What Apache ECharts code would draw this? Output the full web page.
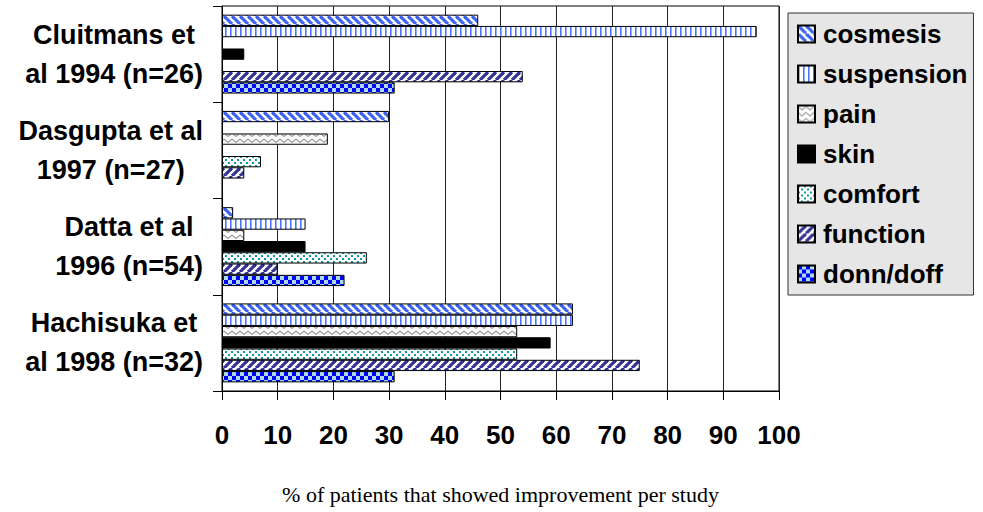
<!DOCTYPE html>
<html>
<head>
<meta charset="utf-8">
<script src="https://cdn.jsdelivr.net/npm/echarts@6/dist/echarts.min.js"></script>
<style>
  html, body { margin: 0; padding: 0; background: #fff; }
  #chart { width: 983px; height: 512px; }
</style>
</head>
<body>
<div id="chart"></div>
<script>
// ---- data ----
const categories = ['Cluitmans et\nal 1994 (n=26)', 'Dasgupta et al\n1997 (n=27)', 'Datta et al\n1996 (n=54)', 'Hachisuka et\nal 1998 (n=32)'];
const seriesNames = ['cosmesis', 'suspension', 'pain', 'skin', 'comfort', 'function', 'donn/doff'];
const cosmesis   = [46, 30, 2, 63];
const suspension = [96, null, 15, 63];
const pain       = [null, 19, 4, 53];
const skin       = [4, null, 15, 59];
const comfort    = [null, 7, 26, 53];
const functionV  = [54, 4, 10, 75];
const donnDoff   = [31, null, 22, 31];
const xMin = 0, xMax = 100, xInterval = 10;
const xAxisTitle = '% of patients that showed improvement per study';

// ---- patterns ----
function makePattern(w, h, draw) {
  const c = document.createElement('canvas');
  c.width = w; c.height = h;
  const ctx = c.getContext('2d');
  draw(ctx, w, h);
  return { image: c, repeat: 'repeat' };
}
function stripes(color, dir, p, lw) {
  return makePattern(p, p, (ctx, w, h) => {
    ctx.fillStyle = '#fff'; ctx.fillRect(0, 0, w, h);
    ctx.strokeStyle = color; ctx.lineWidth = lw;
    for (let k = -1; k <= 1; k++) {
      ctx.beginPath();
      if (dir === 'back') { ctx.moveTo(k * p, 0); ctx.lineTo(k * p + p, p); }
      else { ctx.moveTo(k * p, p); ctx.lineTo(k * p + p, 0); }
      ctx.stroke();
    }
  });
}
const patCosmesis = stripes('#3d63f0', 'back', 8, 3.2);
const patFunction = stripes('#333399', 'fwd', 8, 3.2);
const patSuspension = makePattern(5, 4, (ctx, w, h) => {
  ctx.fillStyle = '#fff'; ctx.fillRect(0, 0, w, h);
  ctx.fillStyle = '#4a74ff'; ctx.fillRect(0, 0, 1.6, h);
});
const patPain = makePattern(8, 6, (ctx, w, h) => {
  ctx.fillStyle = '#fff'; ctx.fillRect(0, 0, w, h);
  ctx.strokeStyle = '#9a9a9a'; ctx.lineWidth = 1.1;
  ctx.beginPath(); ctx.moveTo(0, 1); ctx.lineTo(4, 4.5); ctx.lineTo(8, 1); ctx.stroke();
});
const patComfort = makePattern(6, 6, (ctx, w, h) => {
  ctx.fillStyle = '#fff'; ctx.fillRect(0, 0, w, h);
  ctx.fillStyle = '#139a9a';
  ctx.fillRect(0, 0, 2, 2); ctx.fillRect(3, 3, 2, 2);
});
const patDonn = makePattern(8, 8, (ctx, w, h) => {
  ctx.fillStyle = '#a8dce8'; ctx.fillRect(0, 0, w, h);
  ctx.fillStyle = '#0000ff';
  ctx.fillRect(0, 0, 4, 4); ctx.fillRect(4, 4, 4, 4);
});
const fills = [patCosmesis, patSuspension, patPain, '#000000', patComfort, patFunction, patDonn];
const values = [cosmesis, suspension, pain, skin, comfort, functionV, donnDoff];

const FONT = 'Liberation Sans, Arial, sans-serif';

const chart = echarts.init(document.getElementById('chart'), null, { renderer: 'svg' });
chart.setOption({
  animation: false,
  backgroundColor: '#fff',
  grid: { left: 222, right: 204, top: 6, bottom: 121, show: true, borderColor: '#000', borderWidth: 1, backgroundColor: '#fff' },
  legend: {
    orient: 'vertical', left: 788, top: 13,
    data: seriesNames.map(n => ({ name: n, icon: 'rect' })),
    backgroundColor: '#e6e6e6', borderColor: '#333', borderWidth: 1,
    padding: [8, 6, 8, 9],
    itemWidth: 17, itemHeight: 17, itemGap: 14,
    textStyle: { fontFamily: FONT, fontSize: 26, fontWeight: 'bold', color: '#000', lineHeight: 26, padding: [0, 0, 0, 3] }
  },
  xAxis: {
    type: 'value', min: xMin, max: xMax, interval: xInterval,
    name: xAxisTitle, nameLocation: 'middle', nameGap: 92,
    nameTextStyle: { fontFamily: 'Liberation Serif, Times New Roman, serif', fontSize: 22, color: '#000' },
    axisLine: { show: true, lineStyle: { color: '#000', width: 1 } },
    axisTick: { show: true, length: 9, lineStyle: { color: '#000' } },
    axisLabel: { margin: 31, fontFamily: FONT, fontSize: 26, fontWeight: 'bold', color: '#000' },
    splitLine: { show: true, lineStyle: { color: '#222', width: 1 } }
  },
  yAxis: {
    type: 'category', data: categories, inverse: true,
    axisLine: { show: true, lineStyle: { color: '#000', width: 1 } },
    axisTick: { show: true, length: 9, lineStyle: { color: '#000' } },
    axisLabel: {
      margin: 19, color: '#000',
      formatter: v => v.split('\n').map(s => '{c|' + s + '}').join('\n'),
      rich: { c: { align: 'center', fontFamily: FONT, fontSize: 27, fontWeight: 'bold', color: '#000', lineHeight: 39 } }
    },
    splitLine: { show: false }
  },
  series: seriesNames.map((n, i) => ({
    name: n, type: 'bar', data: values[i],
    barGap: '0%', barCategoryGap: '18%',
    itemStyle: { color: fills[i], borderColor: '#000', borderWidth: 1 }
  }))
});
</script>
</body>
</html>
